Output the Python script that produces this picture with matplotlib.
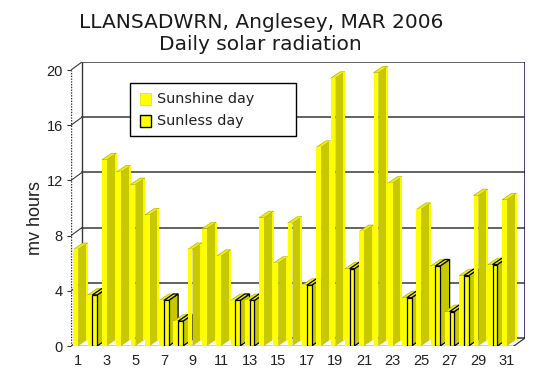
import matplotlib
matplotlib.use("Agg")
import matplotlib.pyplot as plt
from matplotlib.patches import Polygon, Rectangle

# ── data ─────────────────────────────────────────────────────────────────────
days = list(range(1, 32))
radiation = [7.0, 3.7, 13.5, 12.6, 11.7, 9.5, 3.3, 1.8, 7.0, 8.5,
             6.5, 3.3, 3.3, 9.3, 6.0, 8.9, 4.4, 14.4, 19.4, 5.6,
             8.3, 19.8, 11.8, 3.5, 9.9, 5.8, 2.5, 5.1, 10.9, 5.9, 10.6]
sunless_days = [2, 7, 8, 12, 13, 17, 20, 24, 26, 27, 28, 30]
y_ticks = [0, 4, 8, 12, 16, 20]
x_ticks = list(range(1, 32, 2))

TITLE_1 = "LLANSADWRN, Anglesey, MAR 2006"
TITLE_2 = "Daily solar radiation"
Y_LABEL = "mv hours"

# ── look ─────────────────────────────────────────────────────────────────────
W, H = 541, 378
FRONT = "#FFFF00"
SIDE = "#C8C800"
TOP = "#EEEE00"
GRID = "#383838"

# pseudo-3D geometry, in data units
X0, X1 = 0.5, 31.5          # front plane
WALL_DX, WALL_DY = 0.77, 0.58
BAR_W = 0.33
BAR_DX, BAR_DY = 0.665, 0.47


def px(x, y):
    """pixel position (from top-left) -> figure fraction"""
    return x / W, 1 - y / H


def draw_bar(ax, x_left, value, outlined, z):
    ec = "black" if outlined else "none"
    lw = 0.9 if outlined else 0
    xr = x_left + BAR_W
    side = Polygon([(xr, 0), (xr + BAR_DX, BAR_DY), (xr + BAR_DX, value + BAR_DY), (xr, value)],
                   closed=True, fc=SIDE, ec=ec, lw=lw, zorder=z)
    top = Polygon([(x_left, value), (xr, value), (xr + BAR_DX, value + BAR_DY),
                   (x_left + BAR_DX, value + BAR_DY)],
                  closed=True, fc=TOP, ec=ec if outlined else "#A8A800", lw=lw if outlined else 0.4, zorder=z)
    front = Rectangle((x_left, 0), BAR_W, value, fc=FRONT, ec=ec, lw=lw, zorder=z + 0.2)
    ax.add_patch(side)
    ax.add_patch(top)
    ax.add_patch(front)
    if not outlined:
        ax.plot([xr + BAR_DX - 0.05] * 2, [BAR_DY, value + BAR_DY - 0.05],
                color=FRONT, lw=1.3, zorder=z + 0.1, solid_capstyle="butt")


fig = plt.figure(figsize=(W / 100, H / 100), dpi=100)
fig.patch.set_facecolor("white")

left, top_y = px(71, 62)
right, bottom = px(525, 346)
ax = fig.add_axes([left, bottom, right - left, top_y - bottom])
ax.set_xlim(X0, X0 + 454 / 14.29)
ax.set_ylim(0, 284 / 13.8)
for s in ax.spines.values():
    s.set_visible(False)
ax.set_facecolor("none")

# back wall + gridlines
bx0, bx1 = X0 + WALL_DX, X1 + WALL_DX
for v in y_ticks:
    ax.plot([bx0, bx1], [v + WALL_DY] * 2, color=GRID, lw=1.1, zorder=1)
    ax.plot([X0, bx0], [v, v + WALL_DY], color=GRID, lw=0.8, zorder=1)
ax.plot([bx0, bx0], [WALL_DY, 20 + WALL_DY], color=GRID, lw=1, zorder=1)
ax.plot([bx1, bx1], [WALL_DY, 20 + WALL_DY], color="#101050", lw=1.1, zorder=1)
ax.plot([X1, bx1], [0, WALL_DY], color=GRID, lw=0.9, zorder=1)
ax.plot([X0, X1], [0, 0], color="black", lw=1, zorder=1.5)
ax.plot([X0, X0], [0, 20], color="#303030", lw=1, ls=(0, (1, 1)), zorder=1.5)

# bars: sunshine series in left slot, sunless series in right slot
z = 3
for d, v in zip(days, radiation):
    draw_bar(ax, d - BAR_W, v, False, z)
    if d in sunless_days:
        draw_bar(ax, d, v, True, z + 0.5)
    z += 1

ax.set_yticks(y_ticks)
ax.set_yticklabels([str(t) for t in y_ticks], fontsize=10.5, family="Liberation Sans", color="#202020")
ax.set_xticks(x_ticks)
ax.set_xticklabels([str(t) for t in x_ticks], fontsize=10.5, family="Liberation Sans", color="#202020")
ax.tick_params(axis="y", length=3, width=0.8, pad=3, color="#303030")
ax.tick_params(axis="x", length=0, pad=6)

# titles and axis label
fig.text(*px(261, 22), TITLE_1, ha="center", va="center", fontsize=14.5, color="#1a1a1a")
fig.text(*px(260, 45), TITLE_2, ha="center", va="center", fontsize=14.5, color="#1a1a1a")
fig.text(*px(35, 218), Y_LABEL, ha="center", va="center", rotation=90,
         fontsize=13, family="Liberation Sans", color="#202020")

# legend
lx, ly = px(130, 136)
lx2, ly2 = px(296, 83)
fig.add_artist(Rectangle((lx, ly), lx2 - lx, ly2 - ly, transform=fig.transFigure,
                         fc="white", ec="black", lw=1, zorder=10))
for (yy, lbl, outlined) in [(99, "Sunshine day", False), (121, "Sunless day", True)]:
    px0, py0 = px(140, yy + 6)
    px1, py1 = px(151, yy - 6)
    fig.add_artist(Rectangle((px0, py0), px1 - px0, py1 - py0, transform=fig.transFigure,
                             fc=FRONT, ec="black" if outlined else "#E0E000",
                             lw=1 if outlined else 0.5, zorder=11))
    fig.text(*px(157, yy), lbl, ha="left", va="center", fontsize=10.4, color="#202020", zorder=11)

fig.savefig("out.png", dpi=100)
